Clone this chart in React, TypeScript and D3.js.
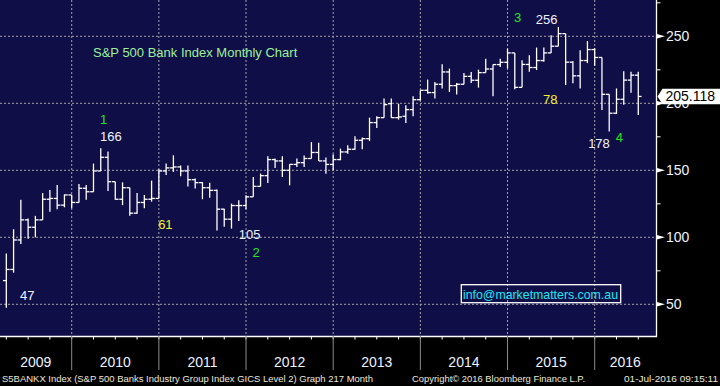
import React from 'react';
import * as d3 from 'd3';

// monthly OHLC, Mar 2009 .. Jun 2016 (S5BANKX)
const firstMonth = new Date(2009, 2, 1);
const lastMonth = new Date(2016, 5, 1);

const opens = [
  67.7, 76, 98, 113, 107.5, 113, 128.4, 129, 124, 131.6,
  126, 136.6, 134, 149.5, 159.7, 141.5, 128.4, 137, 118, 126, 128.4, 129,
  149.5, 151.8, 152.5, 149.5, 143, 140.8, 137, 135, 121, 113.5, 123.7, 123.7,
  130.2, 138, 146, 158, 157, 150, 154.4, 155.7, 158.8, 163.3, 157, 154.4,
  158, 163.7, 165.7, 172.4, 173.6, 185.6, 189.3, 199.7, 189.3, 190.3, 195.3, 202.7,
  209.7, 208, 214.2, 223.4, 213.2, 214.2, 220.1, 217.2, 222.9, 225.6, 228.9, 230.6,
  237.6, 211.9, 229, 226.7, 231.9, 237.6, 242.6, 252, 230.7, 220.5, 231.9, 240.1,
  234.2, 206.7, 192.6, 203, 217.3, 221
];
const highs = [
  88, 106, 128, 114, 116, 133, 135.3, 139, 132, 131.6,
  139.8, 139, 155, 166.4, 164, 141.5, 141, 137, 133, 131.6, 142.3, 150.7,
  155, 161.2, 153.6, 153.6, 143.8, 141.2, 140.8, 135.7, 121.3, 125.1, 127.7, 131.3,
  145, 147.6, 160.5, 158.8, 160.5, 154.5, 158.8, 161, 171, 170.6, 159.6, 162,
  166.2, 168.7, 175.4, 174.4, 189.3, 190.3, 203.5, 203.5, 199.7, 198.5, 205.2, 209.7,
  217.7, 215.9, 229.1, 225.9, 215.2, 222.6, 223.4, 225.1, 233.3, 228.9, 233.3, 240.8,
  237.6, 232.2, 235.9, 241.6, 241.6, 250.7, 256.9, 252, 231.4, 239.6, 246.5, 241,
  234.2, 206.7, 211.1, 224, 223.5, 223.5
];
const lows = [
  47.5, 73.6, 95, 99, 100, 113, 119, 121, 122.4, 121.6,
  126, 128, 134, 149.5, 134.6, 128, 124, 116, 117.5, 121.6, 126.6, 129,
  146.4, 148.8, 145.5, 138, 136.4, 128.4, 129.5, 105, 107.8, 106.5, 112.2, 120.9,
  130.2, 138, 140.5, 151.8, 145, 138.8, 152.5, 152.5, 158.8, 157, 147.4, 150,
  157.5, 162.4, 165.4, 165.7, 171.9, 181.6, 189.3, 189.3, 187.8, 185.3, 190.3, 202.2,
  207.2, 203.5, 211, 208.5, 206.5, 214.2, 215.2, 211.7, 222.9, 205.2, 227.1, 226,
  210.4, 211.9, 223.5, 224.8, 231, 237.6, 242.6, 213.6, 214.9, 211.1, 230, 228,
  195, 179, 192, 199, 207.9, 191.3
];
const closes = [
  76, 98, 113, 107.5, 113, 128.4, 129, 124, 131.6, 126,
  136.6, 134, 149.5, 159.7, 141.5, 128.4, 137, 118, 126, 128.4, 129, 149.5,
  151.8, 152.5, 149.5, 143, 140.8, 137, 135, 121, 113.5, 123.7, 123.7, 130.2,
  138, 146, 158, 157, 150, 154.4, 155.7, 158.8, 163.3, 157, 154.4, 158,
  163.7, 165.7, 172.4, 173.6, 185.6, 189.3, 199, 189.3, 189.8, 195.3, 202.7, 209.7,
  208, 214.2, 223.4, 213.2, 214.2, 220.1, 217.2, 222.9, 225.6, 228.9, 230.6, 237.6,
  211.9, 229, 226.7, 231.9, 237.6, 242.6, 252, 230.7, 220.5, 231.9, 240.1, 234.2,
  206.7, 192.6, 203, 217.3, 221, 205.118
];

const years = [2009, 2010, 2011, 2012, 2013, 2014, 2015, 2016];
const majorY = [50, 100, 150, 200, 250];
const minorY = [75, 125, 175, 225, 275];
const lastPrice = '205.118';

// wave / fib annotations: [text, month offset from Jan 2010, index level, kind]
const notes: [string, number, number, string][] = [
  ['1', 3.9, 184.6, 'wave'],
  ['166', 3.9, 171.5, 'level'],
  ['61', 11.9, 106.2, 'fib'],
  ['105', 23.0, 99.1, 'level'],
  ['2', 24.9, 85.3, 'wave'],
  ['47', -7.1, 53.2, 'level'],
  ['3', 60.9, 260.3, 'wave'],
  ['256', 63.9, 259.2, 'level'],
  ['78', 64.9, 199.5, 'fib'],
  ['178', 71.1, 166.6, 'level'],
  ['4', 74.9, 171.1, 'wave']
];

const W = 720;
const H = 386;
const plotR = 656;
const plotB = 336;

const noteColor = { wave: '#22e622', level: '#eef3ff', fib: '#f2f230' };
const font = "'Liberation Sans', Arial, sans-serif";

const monthOffset = (d: Date) => (d.getFullYear() - 2010) * 12 + d.getMonth() + 1;

export default function App() {
  const months = d3.timeMonth.range(firstMonth, d3.timeMonth.offset(lastMonth, 1));
  const bars = months.map((m, i) => ({
    t: monthOffset(m),
    o: opens[i],
    h: highs[i],
    l: lows[i],
    c: closes[i]
  }));

  const x = d3.scaleLinear().domain([-9.87, 80.44]).range([0, plotR]);
  const y = d3.scaleLinear().domain([50, 250]).range([304.3, 36.3]);

  const quarterTicks = d3.range(-9, 81, 3).filter(t => x(t) >= 0 && x(t) <= plotR);
  const yearLines = years.map(yr => (yr - 2010) * 12).filter(t => t >= 0);
  const tick = 3.3;
  const lastY = y(closes[closes.length - 1]);

  return (
    <svg
      width={W}
      height={H}
      style={{ position: 'absolute', left: 0, top: 0, background: '#000' }}
      fontFamily={font}
    >
      <rect x={0} y={0} width={W} height={H} fill="#000" />
      <rect x={0} y={0} width={plotR} height={plotB} fill="#100e46" />

      {/* grid */}
      {majorY.map(v => (
        <line key={'gy' + v} x1={0} x2={plotR} y1={y(v)} y2={y(v)}
          stroke="#a4a4a4" strokeWidth={1} strokeDasharray="2,2" />
      ))}
      {yearLines.map(t => (
        <line key={'gx' + t} x1={x(t)} x2={x(t)} y1={0} y2={plotB}
          stroke="#a4a4a4" strokeWidth={1} strokeDasharray="2,2" />
      ))}

      {/* OHLC bars */}
      <g stroke="#fff" strokeWidth={1.3}>
        {bars.map((b, i) => (
          <g key={i}>
            <line x1={x(b.t)} x2={x(b.t)} y1={y(b.h)} y2={y(b.l)} />
            <line x1={x(b.t) - tick} x2={x(b.t)} y1={y(b.o)} y2={y(b.o)} />
            <line x1={x(b.t)} x2={x(b.t) + tick} y1={y(b.c)} y2={y(b.c)} />
          </g>
        ))}
      </g>

      {/* title and annotations */}
      <text x={93} y={57} fontSize={13} fill="#9cf09c">S&amp;P 500 Bank Index Monthly Chart</text>
      {notes.map(([txt, t, v, kind]) => (
        <text key={txt + t} x={x(t)} y={y(v)} fontSize={13} fill={noteColor[kind]}>{txt}</text>
      ))}

      <rect x={461.3} y={284.7} width={159.4} height={18} fill="none" stroke="#fff" strokeWidth={1.3} />
      <text x={463} y={298.5} fontSize={13} fill="#1ee6f0" textLength={155} lengthAdjust="spacingAndGlyphs">
        info@marketmatters.com.au
      </text>

      {/* plot border */}
      <line x1={plotR + 0.5} x2={plotR + 0.5} y1={0} y2={plotB + 1} stroke="#fff" strokeWidth={1.3} />
      <line x1={0} x2={plotR + 1} y1={plotB + 0.5} y2={plotB + 0.5} stroke="#fff" strokeWidth={1.3} />

      {/* right axis */}
      {minorY.map(v => (
        <line key={'my' + v} x1={plotR} x2={plotR + 4.5} y1={y(v)} y2={y(v)} stroke="#fff" strokeWidth={1} />
      ))}
      {majorY.map(v => (
        <g key={'ay' + v}>
          <polygon
            points={`${plotR},${y(v) - 2.5} ${plotR + 9},${y(v)} ${plotR},${y(v) + 2.5}`}
            fill="#fff"
          />
          <text x={666} y={y(v) + 5} fontSize={14} fill="#eef3ff">{v}</text>
        </g>
      ))}
      <polygon
        points={`${plotR + 1.5},${lastY} ${plotR + 6.5},${lastY - 7.7} ${W},${lastY - 7.7} ${W},${lastY + 7.7} ${plotR + 6.5},${lastY + 7.7}`}
        fill="#fff"
      />
      <text x={665.5} y={lastY + 5} fontSize={14} fill="#000">{lastPrice}</text>

      {/* bottom axis */}
      {quarterTicks.map(t => (
        <line key={'qt' + t} x1={x(t)} x2={x(t)} y1={plotB} y2={plotB + 3.5} stroke="#fff" strokeWidth={1} />
      ))}
      {yearLines.map(t => (
        <line key={'yl' + t} x1={x(t)} x2={x(t)} y1={plotB} y2={370} stroke="#8c8c8c" strokeWidth={1} />
      ))}
      {years.map(yr => {
        const t0 = (yr - 2010) * 12;
        const a = Math.max(0, x(t0));
        const b = Math.min(plotR, x(t0 + 12));
        return (
          <text key={yr} x={(a + b) / 2} y={367} fontSize={14} fill="#eef3ff" textAnchor="middle">{yr}</text>
        );
      })}

      {/* footer */}
      <g fill="#ece8dc">
        <text x={2} y={382} fontSize={9.2} textLength={371} lengthAdjust="spacingAndGlyphs">
          S5BANKX Index (S&amp;P 500 Banks Industry Group Index GICS Level 2) Graph 217  Month
        </text>
        <text x={412} y={382} fontSize={9.2} textLength={173} lengthAdjust="spacingAndGlyphs">
          Copyright© 2016 Bloomberg Finance L.P.
        </text>
        <text x={624} y={382} fontSize={8.8} textLength={94} lengthAdjust="spacingAndGlyphs">
          01-Jul-2016 09:15:11
        </text>
      </g>
    </svg>
  );
}
